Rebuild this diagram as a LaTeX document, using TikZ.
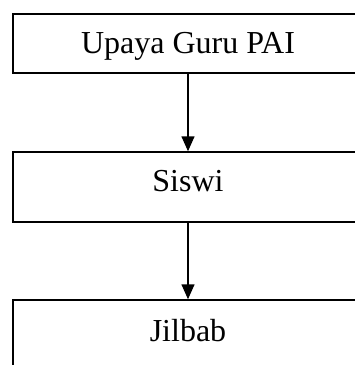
\documentclass[tikz,border=0pt]{standalone}
\usepackage{fontspec}
\setmainfont{Liberation Serif}
\usetikzlibrary{arrows.meta}
\begin{document}
\begin{tikzpicture}[x=1pt,y=-1pt,
  boxstyle/.style={draw=black,line width=1.5pt,rectangle,minimum width=350pt,inner sep=0pt},
  labelstyle/.style={anchor=base,inner sep=0pt,font=\fontsize{32}{38}\selectfont},
  arrowstyle/.style={line width=1.5pt,-{Triangle[length=15pt,width=13pt]}}]
\useasboundingbox (0,0) rectangle (355,365);
\clip (0,0) rectangle (355,365);
\fill[white] (0,0) rectangle (355,365);
\node[boxstyle,minimum height=59pt] (a) at (188,43.5) {};
\node[boxstyle,minimum height=70pt] (b) at (188,187) {};
\node[boxstyle,minimum height=68pt] (c) at (188,334) {};
\node[labelstyle] (ta) at (188,53) {Upaya Guru PAI};
\node[labelstyle] (tb) at (188,191.5) {Siswi};
\node[labelstyle] (tc) at (188,341.5) {Jilbab};
\draw[arrowstyle] (a.south) -- (b.north);
\draw[arrowstyle] (b.south) -- (c.north);
\end{tikzpicture}
\end{document}
